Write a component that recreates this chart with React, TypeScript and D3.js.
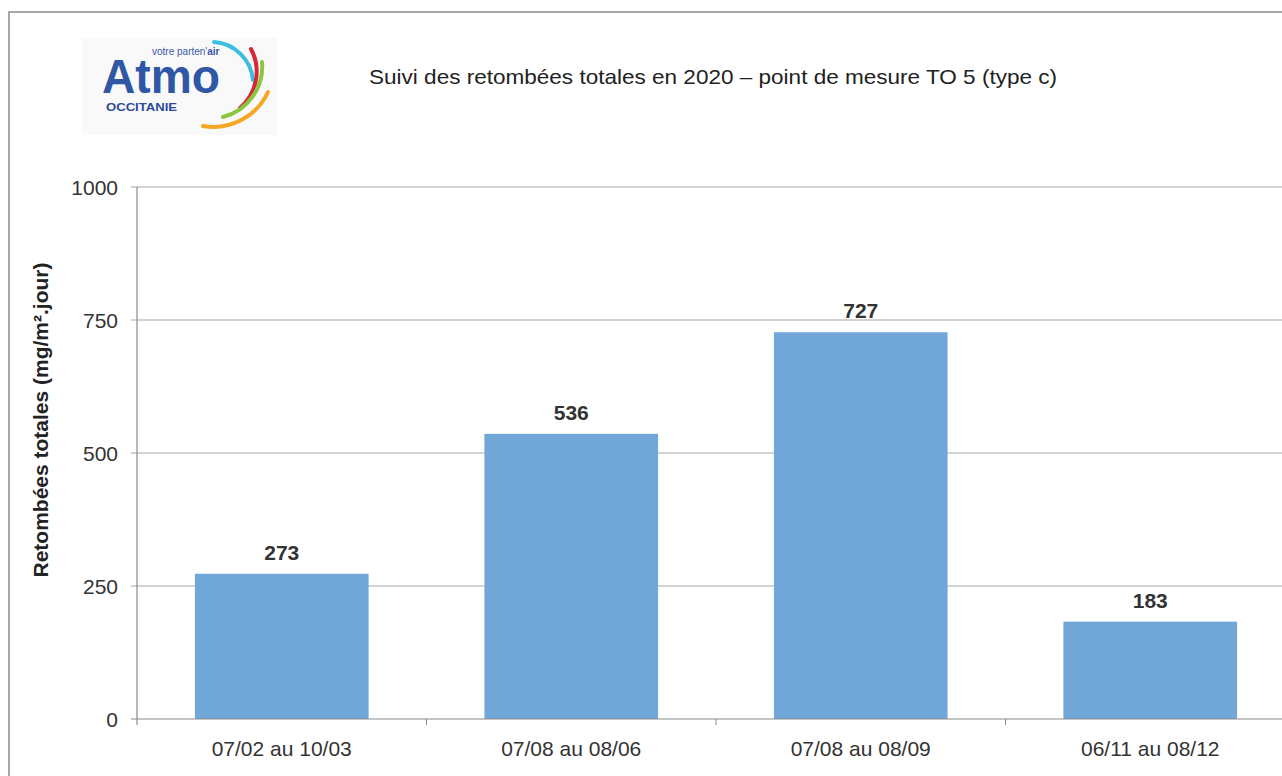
// App.tsx
import React, { useEffect, useRef } from "react";
import * as d3 from "d3";

// periods measured at point TO 5
const categories = ["07/02 au 10/03", "07/08 au 08/06", "07/08 au 08/09", "06/11 au 08/12"];
// total deposition (mg/m².jour)
const values = [273, 536, 727, 183];
const yTicks = [0, 250, 500, 750, 1000];

const title = "Suivi des retombées totales en 2020 – point de mesure TO 5 (type c)";
const yTitle = "Retombées totales (mg/m².jour)";

const App = () => {
  const ref = useRef<SVGSVGElement>(null);

  useEffect(() => {
    const width = 1282;
    const height = 776;
    const font = "'Liberation Sans', Arial, sans-serif";

    const svg = d3.select(ref.current);
    svg.selectAll("*").remove();
    svg.attr("width", width).attr("height", height);

    svg.append("rect").attr("width", width).attr("height", height).attr("fill", "#ffffff");

    // outer frame (only top and left visible, the chart is cropped)
    svg.append("path")
      .attr("d", `M9,${height} L9,12 L${width},12`)
      .attr("fill", "none")
      .attr("stroke", "#8a8a8a")
      .attr("stroke-width", 1.5);

    // plot area
    const left = 137;
    const top = 187;
    const bottom = 719;
    const right = 1295;

    const x = d3.scaleBand()
      .domain(categories)
      .range([left, right])
      .paddingInner(0.4)
      .paddingOuter(0.2);

    const y = d3.scaleLinear()
      .domain([0, 1000])
      .range([bottom, top]);

    // gridlines
    svg.append("g")
      .selectAll("line")
      .data(yTicks.filter(t => t > 0))
      .enter()
      .append("line")
      .attr("x1", left - 6)
      .attr("x2", width)
      .attr("y1", d => y(d))
      .attr("y2", d => y(d))
      .attr("stroke", "#a8a8a8")
      .attr("stroke-width", 1.2);

    // bars
    svg.append("g")
      .selectAll("rect")
      .data(values)
      .enter()
      .append("rect")
      .attr("x", (d, i) => x(categories[i])!)
      .attr("y", d => y(d))
      .attr("width", x.bandwidth())
      .attr("height", d => bottom - y(d))
      .attr("fill", "#70a7d8");

    // value labels
    svg.append("g")
      .selectAll("text")
      .data(values)
      .enter()
      .append("text")
      .attr("x", (d, i) => x(categories[i])! + x.bandwidth() / 2)
      .attr("y", d => y(d) - 14)
      .attr("text-anchor", "middle")
      .style("font-family", font)
      .style("font-size", "21px")
      .style("font-weight", "bold")
      .style("fill", "#333333")
      .text(d => d);

    // axes lines
    svg.append("line")
      .attr("x1", left).attr("x2", left)
      .attr("y1", top).attr("y2", bottom + 6)
      .attr("stroke", "#8a8a8a").attr("stroke-width", 1.2);
    svg.append("line")
      .attr("x1", left - 6).attr("x2", width)
      .attr("y1", bottom).attr("y2", bottom)
      .attr("stroke", "#8a8a8a").attr("stroke-width", 1.2);

    // category separators
    const step = x.step();
    svg.append("g")
      .selectAll("line")
      .data(categories.slice(1))
      .enter()
      .append("line")
      .attr("x1", (d, i) => left + step * (i + 1))
      .attr("x2", (d, i) => left + step * (i + 1))
      .attr("y1", bottom)
      .attr("y2", bottom + 6)
      .attr("stroke", "#8a8a8a");

    // y tick labels
    svg.append("g")
      .selectAll("text")
      .data(yTicks)
      .enter()
      .append("text")
      .attr("x", 118)
      .attr("y", d => y(d))
      .attr("dy", "0.36em")
      .attr("text-anchor", "end")
      .style("font-family", font)
      .style("font-size", "21px")
      .style("fill", "#333333")
      .text(d => d);

    // category labels
    svg.append("g")
      .selectAll("text")
      .data(categories)
      .enter()
      .append("text")
      .attr("x", d => x(d)! + x.bandwidth() / 2)
      .attr("y", 756)
      .attr("text-anchor", "middle")
      .style("font-family", font)
      .style("font-size", "21px")
      .style("fill", "#333333")
      .text(d => d);

    // y axis title
    svg.append("text")
      .attr("transform", "translate(48,420) rotate(-90)")
      .attr("text-anchor", "middle")
      .style("font-family", font)
      .style("font-size", "21px")
      .style("font-weight", "bold")
      .style("fill", "#222222")
      .text(yTitle);

    // chart title
    svg.append("text")
      .attr("x", 369)
      .attr("y", 84)
      .attr("textLength", 688)
      .attr("lengthAdjust", "spacingAndGlyphs")
      .style("font-family", font)
      .style("font-size", "21px")
      .style("fill", "#222222")
      .text(title);

    // logo
    const logo = svg.append("g");
    logo.append("rect")
      .attr("x", 82).attr("y", 38).attr("width", 195).attr("height", 97)
      .attr("fill", "#f9f9f9");
    const arcs = [
      { d: "M214,42 A42,42 0 0 1 253,80", c: "#3bbfe0" },
      { d: "M251,49 A48,48 0 0 1 240,108", c: "#d9263a" },
      { d: "M262,62 A52,52 0 0 1 223,117", c: "#8cc63f" },
      { d: "M268,92 A60,60 0 0 1 203,126", c: "#f5a623" },
    ];
    logo.selectAll("path")
      .data(arcs)
      .enter()
      .append("path")
      .attr("d", d => d.d)
      .attr("fill", "none")
      .attr("stroke", d => d.c)
      .attr("stroke-width", 4)
      .attr("stroke-linecap", "round");
    logo.append("text")
      .attr("x", 102).attr("y", 93)
      .attr("textLength", 118)
      .attr("lengthAdjust", "spacingAndGlyphs")
      .style("font-family", font)
      .style("font-size", "48px")
      .style("font-weight", "bold")
      .style("fill", "#2f57a6")
      .text("Atmo");
    const tag = logo.append("text")
      .attr("x", 152).attr("y", 55)
      .style("font-family", font)
      .style("font-size", "10px")
      .style("fill", "#3a5aa8");
    tag.append("tspan").text("votre parten'");
    tag.append("tspan").style("font-weight", "bold").text("air");
    logo.append("text")
      .attr("x", 106).attr("y", 111)
      .attr("textLength", 71)
      .attr("lengthAdjust", "spacingAndGlyphs")
      .style("font-family", font)
      .style("font-size", "11px")
      .style("font-weight", "bold")
      .style("fill", "#2d4a9a")
      .text("OCCITANIE");
  }, []);

  return <svg ref={ref} style={{ position: "absolute", left: 0, top: 0, display: "block" }}></svg>;
};

export default App;
